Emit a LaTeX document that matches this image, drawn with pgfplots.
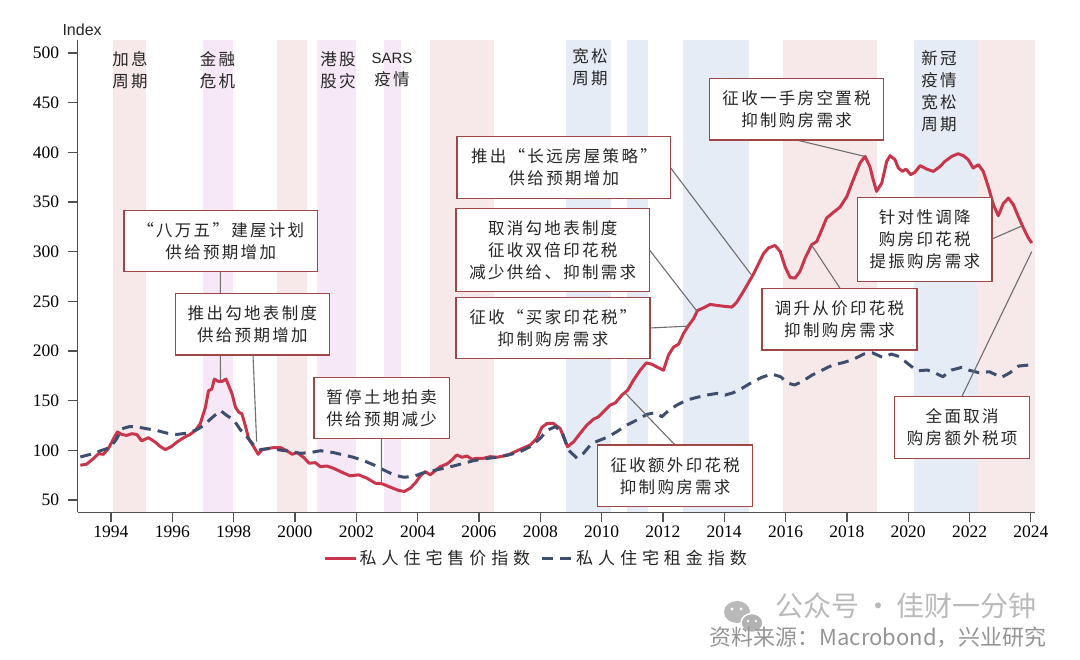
\documentclass[border=0pt]{standalone}
\usepackage{fontspec}
\usepackage{pgfplots}
\pgfplotsset{compat=1.18}
\setmainfont{Liberation Serif}
\newfontfamily\cjk[LetterSpace=14,RawFeature={+fwid}]{Noto Sans CJK SC}
\newfontfamily\cjkleg[LetterSpace=29]{Noto Sans CJK SC}
\newfontfamily\cjkplain{Noto Sans CJK SC}
\newfontfamily\sans{Liberation Sans}

\definecolor{pricered}{RGB}{201,54,75}
\definecolor{rentblue}{RGB}{62,78,110}
\definecolor{boxred}{RGB}{160,70,70}
\definecolor{callgray}{RGB}{110,110,110}
\definecolor{axisgray}{RGB}{80,80,80}
\definecolor{bandpink}{RGB}{247,233,233}
\definecolor{bandpurple}{RGB}{246,232,246}
\definecolor{bandblue}{RGB}{230,236,245}

\newcommand\bfnt{\cjk\fontsize{16.5}{22}\selectfont}
\newcommand\bx[5]{\node[box, minimum width=#3pt, minimum height=#4pt] at (#1,#2) {#5};}

% private domestic price index
\pgfplotstableread{
year value
1993.00 85
1993.20 86
1993.42 91.5
1993.59 96.5
1993.75 96
1993.91 101.5
1994.08 111.5
1994.21 118.5
1994.35 116
1994.51 115
1994.68 116.7
1994.84 116
1995.00 109.5
1995.22 112.7
1995.44 108.3
1995.60 104
1995.77 100.7
1995.98 104
1996.15 108.3
1996.37 112.7
1996.58 116
1996.75 120
1996.91 126.7
1997.08 143.3
1997.18 160
1997.29 161.7
1997.37 171.7
1997.51 169.3
1997.62 169.3
1997.75 171.7
1997.84 165
1997.95 156.7
1998.06 143.3
1998.17 138.3
1998.27 136.7
1998.38 125
1998.49 111.7
1998.66 103.3
1998.80 96
1998.93 100.7
1999.09 101.7
1999.31 102.7
1999.53 102.7
1999.75 99.3
1999.91 96
2000.07 97.7
2000.29 92.7
2000.46 87
2000.66 87.6
2000.83 83.6
2001.04 84.2
2001.26 81.9
2001.48 78.6
2001.80 74.3
2002.08 75.3
2002.35 71.9
2002.62 66.9
2002.84 66.3
2003.11 62.9
2003.38 59.6
2003.57 58.6
2003.76 61.9
2003.92 66.9
2004.09 74.3
2004.25 78.6
2004.41 75.3
2004.58 79.6
2004.74 83.6
2004.96 86.3
2005.12 90.3
2005.28 95.3
2005.45 93
2005.61 94.3
2005.77 91
2005.93 92
2006.15 92
2006.37 93.6
2006.59 93
2006.80 94.3
2007.02 96.3
2007.35 101
2007.67 105.3
2007.89 112
2008.05 123
2008.22 127
2008.43 127
2008.65 122
2008.89 103.6
2009.09 108.6
2009.30 117
2009.52 125.4
2009.74 131.4
2009.90 133.8
2010.12 140.5
2010.28 145.5
2010.45 147.8
2010.66 155.5
2010.85 160.5
2011.04 170.6
2011.26 180.6
2011.46 188
2011.64 186.6
2011.80 184
2012.02 180.6
2012.18 195.7
2012.35 204
2012.51 206.7
2012.67 217.4
2012.84 225.8
2013.00 232.5
2013.13 240.8
2013.33 243.5
2013.54 246.9
2013.76 245.9
2014.03 244.9
2014.25 244.2
2014.41 249.2
2014.58 257.6
2014.74 266
2014.96 277.7
2015.12 287.8
2015.28 297.9
2015.45 303.9
2015.66 306.2
2015.83 300
2015.99 284.4
2016.15 274
2016.31 273.4
2016.47 280
2016.64 293.5
2016.85 306.9
2017.02 310.3
2017.18 322
2017.34 333.8
2017.56 339.5
2017.78 344.9
2018.00 355.6
2018.21 372.4
2018.43 389.2
2018.59 395.9
2018.75 385.9
2018.86 372.4
2018.97 360.7
2019.14 369.1
2019.30 390.9
2019.41 396.6
2019.57 392.6
2019.68 384.2
2019.82 380.8
2019.93 383.2
2020.08 377.5
2020.22 379.9
2020.39 386.6
2020.60 383.2
2020.82 380.8
2021.02 385.2
2021.20 390.9
2021.42 395.9
2021.63 398.6
2021.80 396.6
2021.96 392.6
2022.12 384.2
2022.29 387.6
2022.45 380.8
2022.61 365.7
2022.78 347.3
2022.94 336.2
2023.10 348.3
2023.27 354
2023.43 347.3
2023.59 335.6
2023.76 323.8
2023.92 313.8
2024.03 308.7
}\pricetable

% private domestic rental index
\pgfplotstableread{
year value
1993.00 93.3
1993.42 96.7
1993.70 100
1993.97 102.7
1994.19 111.7
1994.35 121.7
1994.62 124
1994.89 123.3
1995.17 121.7
1995.49 120
1995.82 117.3
1996.15 116
1996.48 117.3
1996.80 120.7
1997.02 125
1997.29 132.7
1997.57 140
1997.78 135
1998.00 130.7
1998.22 120.7
1998.44 113.3
1998.66 105
1998.87 100.7
1999.15 101.7
1999.42 100.7
1999.75 99.3
2000.18 97
2000.50 97.7
2000.83 99.6
2001.26 97.7
2001.59 95.3
2001.91 93
2002.24 89.6
2002.57 85.3
2002.89 80.3
2003.22 75.3
2003.54 72.9
2003.87 73.6
2004.14 76.9
2004.47 79.3
2004.85 81.9
2005.17 84.2
2005.50 86.9
2005.83 89.6
2006.20 91.6
2006.59 93
2006.97 95.3
2007.35 98.7
2007.67 103.6
2008.00 112
2008.22 120
2008.49 123.8
2008.71 118.8
2008.92 100.3
2009.20 92
2009.41 97
2009.68 107
2009.96 110.4
2010.23 113.8
2010.50 118.8
2010.83 125.5
2011.15 130.5
2011.48 136.2
2011.75 137.9
2011.97 133.9
2012.18 139.9
2012.46 145.6
2012.78 150.6
2013.11 153.3
2013.43 155.6
2013.76 157.3
2014.03 155.6
2014.30 158
2014.58 162.4
2014.90 168.4
2015.23 173.5
2015.55 176.8
2015.83 174.2
2016.10 167.4
2016.30 165.8
2016.53 169.1
2016.87 175.8
2017.20 180.8
2017.54 185.9
2017.87 188.2
2018.21 191.5
2018.55 196.9
2018.83 198.2
2019.17 193.5
2019.45 196.9
2019.73 194.2
2019.95 188.2
2020.29 180.1
2020.63 180.8
2020.91 177.4
2021.13 174.1
2021.41 180.8
2021.75 183.5
2021.97 180.8
2022.31 178.1
2022.65 179.1
2023.04 173.4
2023.32 178.1
2023.60 184.8
2023.94 185.9
2024.03 186
}\renttable

\begin{document}
\begin{tikzpicture}[
  box/.style={draw=boxred, line width=1.1pt, fill=white, align=center,
    inner sep=0pt, text=black!85, font=\bfnt},
  callout/.style={draw=callgray, line width=1.1pt},
  toplab/.style={align=center, text=black!85, font=\bfnt}]
\path (0pt,0pt) rectangle (1080pt,660pt);
\begin{axis}[
  at={(77.7pt,147.7pt)}, anchor=south west,
  scale only axis, width=957.3pt, height=472.3pt,
  xmin=1992.914, xmax=2024.137, ymin=37.6, ymax=513.1,
  axis x line=bottom, axis y line=left,
  axis line style={-, draw=axisgray, line width=1.3pt},
  tick style={draw=axisgray, line width=1.3pt},
  tick align=outside, major tick length=10pt,
  xtick={1994,1996,...,2024}, ytick={50,100,...,500},
  x tick label style={/pgf/number format/1000 sep=},
  ticklabel style={font=\fontsize{17.5}{20}\selectfont, text=black},
  /pgf/number format/assume math mode=true,
  yticklabel style={xshift=-5pt},
  legend columns=2,
  legend style={draw=none, fill=none, at={(0.479,-0.0974)}, anchor=center,
    font=\cjkleg\fontsize{17}{20}\selectfont, text=black!85,
    /tikz/every even column/.append style={column sep=8pt}},
  legend image code/.code={\draw[#1, line width=3pt] (0pt,0pt) -- (31pt,0pt);},
]
% shaded policy / cycle periods
\fill[bandpink]   (axis cs:1994.07,37.6) rectangle (axis cs:1995.14,513.1);
\fill[bandpurple] (axis cs:1997.01,37.6) rectangle (axis cs:1997.98,513.1);
\fill[bandpink]   (axis cs:1999.42,37.6) rectangle (axis cs:2000.40,513.1);
\fill[bandpurple] (axis cs:2000.73,37.6) rectangle (axis cs:2001.98,513.1);
\fill[bandpurple] (axis cs:2002.92,37.6) rectangle (axis cs:2003.47,513.1);
\fill[bandpink]   (axis cs:2004.42,37.6) rectangle (axis cs:2006.48,513.1);
\fill[bandblue]   (axis cs:2008.83,37.6) rectangle (axis cs:2010.32,513.1);
\fill[bandblue]   (axis cs:2010.83,37.6) rectangle (axis cs:2011.51,513.1);
\fill[bandblue]   (axis cs:2012.65,37.6) rectangle (axis cs:2014.82,513.1);
\fill[bandpink]   (axis cs:2015.93,37.6) rectangle (axis cs:2018.98,513.1);
\fill[bandblue]   (axis cs:2020.18,37.6) rectangle (axis cs:2022.23,513.1);
\fill[bandpink]   (axis cs:2022.23,37.6) rectangle (axis cs:2024.137,513.1);

\addplot[pricered, line width=3pt, line join=round] table[x=year,y=value] {\pricetable};
\addlegendentry{私人住宅售价指数}
\addplot[rentblue, line width=3pt, line join=round, dash pattern=on 11pt off 7pt] table[x=year,y=value] {\renttable};
\addlegendentry{私人住宅租金指数}

% points on the curves that the callouts point to
\coordinate (eA) at (axis cs:1997.57,170.5);
\coordinate (eB) at (axis cs:1998.75,108.7);
\coordinate (eC) at (axis cs:2002.82,67.4);
\coordinate (eD) at (axis cs:2014.90,276);
\coordinate (eE) at (axis cs:2013.10,240.5);
\coordinate (eF) at (axis cs:2012.82,225);
\coordinate (eG) at (axis cs:2010.76,158);
\coordinate (eH) at (axis cs:2018.57,396);
\coordinate (eI) at (axis cs:2016.85,306.7);
\coordinate (eJ) at (axis cs:2023.72,326);
\coordinate (eK) at (axis cs:2024.03,300);
\end{axis}

\begin{scope}[x=1pt, y=-1pt, shift={(0pt,660pt)}]
\node[anchor=west, font=\sans\fontsize{16}{18}\selectfont, text=black!85] at (59,29.3) {Index};

% period labels
\node[toplab] at (130,70) {加息\\周期};
\node[toplab] at (217.5,70) {金融\\危机};
\node[toplab] at (338,70) {港股\\股灾};
\node[toplab] at (392,70) {{\sans\fontsize{15}{22}\selectfont SARS}\\疫情};
\node[toplab] at (590,67.5) {宽松\\周期};
\node[toplab] at (939,91.5) {新冠\\疫情\\宽松\\周期};

% callout leaders
\draw[callout] (220.4,271.7) -- (eA);
\draw[callout] (253,355) -- (eB);
\draw[callout] (381.5,438.3) -- (eC);
\draw[callout] (670.9,168.3) -- (eD);
\draw[callout] (649.5,250) -- (eE);
\draw[callout] (650,328) -- (eF);
\draw[callout] (675,445) -- (eG);
\draw[callout] (796.5,140) -- (eH);
\draw[callout] (840,288.3) -- (eI);
\draw[callout] (992,239) -- (eJ);
\draw[callout] (961.8,396.7) -- (eK);

% callout boxes
\bx{220.75}{241.2}{193.5}{61}{“八万五”建屋计划\\供给预期增加}
\bx{252.4}{324.15}{154.2}{61.7}{推出勾地表制度\\供给预期增加}
\bx{381.7}{408}{135.4}{60.6}{暂停土地拍卖\\供给预期减少}
\bx{563.95}{167.5}{213.9}{61.6}{推出“长远房屋策略”\\供给预期增加}
\bx{552.75}{250}{193.5}{83.4}{取消勾地表制度\\征收双倍印花税\\减少供给、抑制需求}
\bx{553}{328.1}{194}{60.8}{征收“买家印花税”\\抑制购房需求}
\bx{675.2}{475.85}{154.6}{61.7}{征收额外印花税\\抑制购房需求}
\bx{796.55}{109.15}{174.3}{61.7}{征收一手房空置税\\抑制购房需求}
\bx{839.5}{319.15}{155}{61.7}{调升从价印花税\\抑制购房需求}
\bx{924.8}{239.6}{134.4}{84.2}{针对性调降\\购房印花税\\提振购房需求}
\bx{962.2}{427.5}{135}{61.6}{全面取消\\购房额外税项}

% footer
\fill[gray!55] (737,612) ellipse (13 and 11);
\fill[white] (732,609) circle (1.6);
\fill[white] (741,609) circle (1.6);
\filldraw[fill=gray!60, draw=white, line width=1.5pt] (752,623) ellipse (11 and 9.5);
\fill[white] (748,621) circle (1.4);
\fill[white] (756,621) circle (1.4);
\node[anchor=west, font=\cjkplain\fontsize{28}{30}\selectfont, text=black!27] at (772,606) {公众号\,·\,佳财一分钟};
\node[anchor=west, font=\cjkplain\fontsize{22}{24}\selectfont, text=black!42] at (706,637) {资料来源：Macrobond，兴业研究};
\end{scope}
\end{tikzpicture}
\end{document}
